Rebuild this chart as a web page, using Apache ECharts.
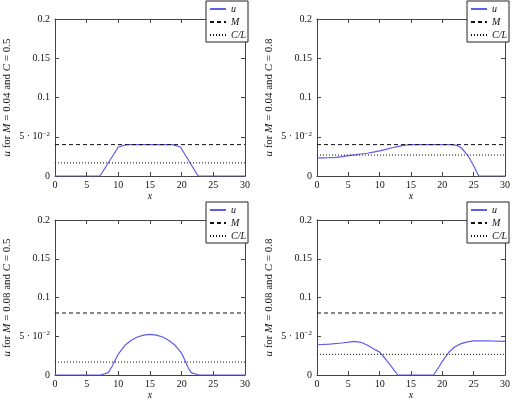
<!DOCTYPE html>
<html>
<head>
<meta charset="utf-8">
<script src="https://cdn.jsdelivr.net/npm/echarts@6/dist/echarts.min.js"></script>
<style>
html, body { margin: 0; padding: 0; background: #fff; }
#main { width: 517px; height: 401px; }
</style>
</head>
<body>
<div id="main"></div>
<script>
// values, x in [0, 30]
var u1 = [[0, 0], [7.1, 0], [10, 0.037], [11.3, 0.04], [18.5, 0.04], [19.8, 0.037], [22.6, 0], [30, 0]];
var u2 = [[0, 0.023], [1, 0.023], [2, 0.0233], [3, 0.0238], [4, 0.0248], [5, 0.026], [6, 0.027], [7, 0.028], [8, 0.029],
          [9, 0.0305], [10, 0.032], [11, 0.034], [12, 0.036], [13, 0.0378], [14, 0.0393], [15, 0.04], [21.5, 0.04],
          [22.3, 0.039], [23, 0.036], [24, 0.027], [25, 0.013], [25.8, 0], [30, 0]];
var u3 = [[0, 0], [7.2, 0], [8.4, 0.003], [9, 0.011], [9.5, 0.019], [10, 0.027], [11, 0.038], [12, 0.0445], [13, 0.049],
          [14, 0.0515], [15, 0.0523], [16, 0.0515], [17, 0.049], [18, 0.0445], [19, 0.038], [20, 0.028], [20.5, 0.019],
          [21, 0.01], [21.5, 0.003], [22.7, 0], [30, 0]];
var u4 = [[0, 0.039], [2, 0.0398], [4, 0.0413], [6, 0.0433], [7, 0.0422], [8, 0.0387], [9, 0.034], [10, 0.0295],
          [11, 0.02], [12, 0.0095], [12.9, 0], [18.6, 0], [19.5, 0.011], [20, 0.0175], [21, 0.029], [22, 0.0365],
          [23, 0.0405], [24, 0.0428], [25, 0.0441], [27, 0.0442], [30, 0.0433]];
var uData = [u1, u2, u3, u4];
var mVals = [0.04, 0.04, 0.08, 0.08];
var cVals = [0.5, 0.8, 0.5, 0.8];
var clVals = [0.0167, 0.0267, 0.0167, 0.0267];
var xRange = [0, 30];
var yRange = [0, 0.2];

var grids = [
    {left: 55, top: 19, width: 190, height: 157},
    {left: 317, top: 19, width: 188, height: 157},
    {left: 55, top: 220, width: 190, height: 157},
    {left: 317, top: 220, width: 188, height: 157}
];
var legendPos = [[206, 1], [467, 1], [206, 202], [467, 202]];

var font = 'Liberation Serif';
var axisCol = '#444';
var blue = '#5c5cee';

var myChart = echarts.init(document.getElementById('main'));
var xAxes = [], yAxes = [], series = [], legends = [];

for (var i = 0; i < 4; i++) {
    // bottom and top x axes
    xAxes.push({
        type: 'value', gridIndex: i, min: xRange[0], max: xRange[1], interval: 5,
        position: 'bottom',
        axisLine: {show: true, onZero: false, lineStyle: {color: axisCol, width: 1}},
        axisTick: {show: true, inside: true, length: 4, lineStyle: {color: axisCol}},
        splitLine: {show: false},
        axisLabel: {color: '#111', fontFamily: font, fontSize: 10, margin: 4},
        name: 'x', nameLocation: 'middle', nameGap: 15,
        nameTextStyle: {color: '#111', fontFamily: font, fontStyle: 'italic', fontSize: 10}
    });
    xAxes.push({
        type: 'value', gridIndex: i, min: xRange[0], max: xRange[1], interval: 5,
        position: 'top',
        axisLine: {show: true, onZero: false, lineStyle: {color: axisCol, width: 1}},
        axisTick: {show: true, inside: true, length: 4, lineStyle: {color: axisCol}},
        splitLine: {show: false},
        axisLabel: {show: false}
    });
    yAxes.push({
        type: 'value', gridIndex: i, min: yRange[0], max: yRange[1], interval: 0.05,
        position: 'left',
        axisLine: {show: true, onZero: false, lineStyle: {color: axisCol, width: 1}},
        axisTick: {show: true, inside: true, length: 4, lineStyle: {color: axisCol}},
        splitLine: {show: false},
        axisLabel: {
            color: '#111', fontFamily: font, fontSize: 10, margin: 5,
            formatter: function(v) {
                if (Math.abs(v - 0.05) < 1e-9) return '5 · 10{s|−2}';
                return String(+v.toFixed(2));
            },
            rich: {s: {fontFamily: font, fontSize: 7, color: '#111', padding: [0, 0, 6, 0]}}
        },
        name: '{i|u} for {i|M} = ' + mVals[i].toFixed(2) + ' and {i|C} = ' + cVals[i],
        nameLocation: 'middle', nameRotate: 90, nameGap: 42,
        nameTextStyle: {
            color: '#111', fontFamily: font, fontSize: 11,
            rich: {i: {fontFamily: font, fontSize: 11, fontStyle: 'italic', color: '#111'}}
        }
    });
    yAxes.push({
        type: 'value', gridIndex: i, min: yRange[0], max: yRange[1], interval: 0.05,
        position: 'right',
        axisLine: {show: true, onZero: false, lineStyle: {color: axisCol, width: 1}},
        axisTick: {show: true, inside: true, length: 4, lineStyle: {color: axisCol}},
        splitLine: {show: false},
        axisLabel: {show: false}
    });

    series.push({
        name: 'u', type: 'line', xAxisIndex: i * 2, yAxisIndex: i * 2,
        data: uData[i], symbol: 'none', smooth: false,
        lineStyle: {color: blue, width: 1.2}, itemStyle: {color: blue}
    });
    series.push({
        name: 'M', type: 'line', xAxisIndex: i * 2, yAxisIndex: i * 2,
        data: [[xRange[0], mVals[i]], [xRange[1], mVals[i]]], symbol: 'none',
        lineStyle: {color: '#111', width: 1, type: [4, 3]}, itemStyle: {color: '#111'}
    });
    series.push({
        name: 'C/L', type: 'line', xAxisIndex: i * 2, yAxisIndex: i * 2,
        data: [[xRange[0], clVals[i]], [xRange[1], clVals[i]]], symbol: 'none',
        lineStyle: {color: '#111', width: 1, type: [1, 2]}, itemStyle: {color: '#111'}
    });

    legends.push({
        left: legendPos[i][0], top: legendPos[i][1],
        orient: 'vertical', data: ['u', 'M', 'C/L'],
        backgroundColor: '#fff', borderColor: '#222', borderWidth: 1,
        padding: [3, 2, 2, 3], itemWidth: 16, itemHeight: 10, itemGap: 3,
        itemStyle: {opacity: 0}, selectedMode: false, z: 10,
        textStyle: {fontFamily: font, fontStyle: 'italic', fontSize: 10, color: '#111', width: 16, align: 'center'}
    });
}

var option = {
    backgroundColor: '#fff',
    animation: false,
    grid: grids,
    xAxis: xAxes,
    yAxis: yAxes,
    legend: legends,
    series: series
};
myChart.setOption(option);
</script>
</body>
</html>
